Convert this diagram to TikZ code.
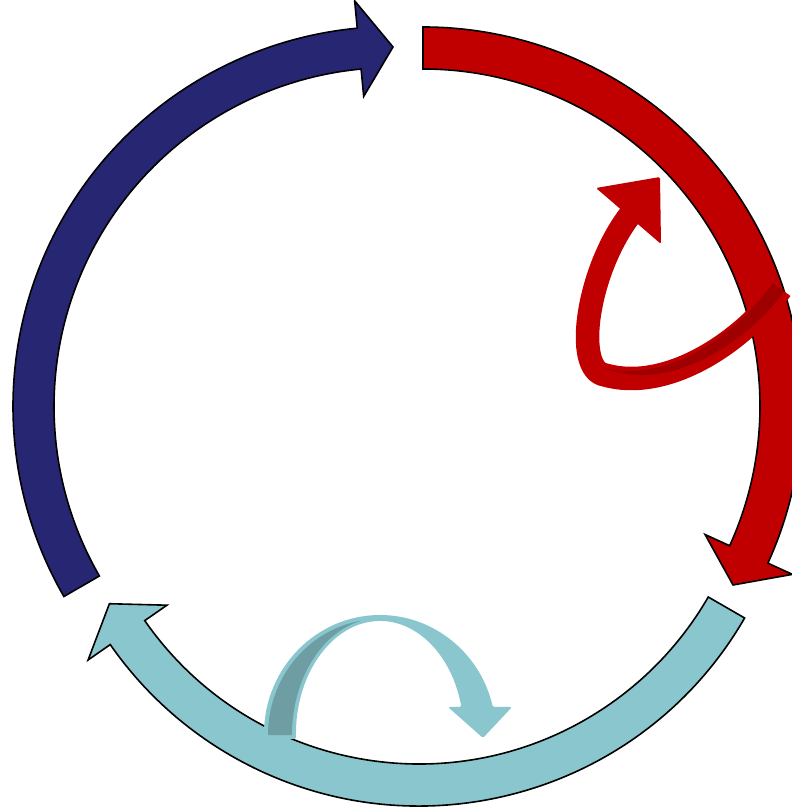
\documentclass[tikz,border=0pt]{standalone}
\usetikzlibrary{calc}
\definecolor{navyA}{HTML}{262672}
\definecolor{crimsonA}{HTML}{C00000}
\definecolor{crimsonB}{HTML}{9E0000}
\definecolor{tealA}{HTML}{8AC6CE}
\definecolor{tealB}{HTML}{6E9DA3}
% #1 style, #2 cx, #3 cy, #4 rin, #5 rout, #6 tail angle, #7 head base angle, #8 tip angle
\newcommand{\cyclearrow}[8]{%
  \path[#1] ($(#2,#3)+(#6:#5)$) arc[start angle=#6, end angle=#7, radius=#5pt]
    -- ($(#2,#3)+(#7:{(#4+#5)/2+48})$)
    -- ($(#2,#3)+(#8:{(#4+#5)/2})$)
    -- ($(#2,#3)+(#7:{(#4+#5)/2-48})$)
    -- ($(#2,#3)+(#7:#4)$)
    arc[start angle=#7, end angle=#6, radius=#4pt] -- cycle;}
\begin{document}
\begin{tikzpicture}[x=1pt,y=1pt,
  bigarrow/.style={draw=black, line width=1.6pt, line join=miter}]
\useasboundingbox (0,0) rectangle (792,811);
\clip (0,0) rectangle (792,811);
% three arrows of the cycle
\cyclearrow{bigarrow, fill=navyA}{393}{404.5}{339}{380}{210}{95.4}{90}
\cyclearrow{bigarrow, fill=crimsonA}{423}{405}{337}{379}{90}{-24.5}{-30}
\cyclearrow{bigarrow, fill=tealA}{419}{381}{334}{376}{-30}{-145.2}{-150.7}
% small red loop arrow
\draw[crimsonA, line width=23.5pt, line join=round]
  (781,522) .. controls (740,466) and (665,419) .. (605,436)
  .. controls (573,441) and (587,540) .. (630,596);
\fill[crimsonA, rounded corners=1.5pt] (596,623) -- (660,634) -- (661,567) -- cycle;
\fill[crimsonB] (772.9,527.9) .. controls (731.9,471.9) and (667.7,428.6) .. (604,443)
  .. controls (665,418) and (743.2,463.6) .. (784.2,519.6) -- cycle;
% small teal arch arrow
\fill[tealA, rounded corners=1.5pt] (264,72) -- (264,76)
  arc[start angle=180, end angle=13.5, x radius=116pt, y radius=120pt]
  -- (512,104) -- (483,73) -- (448,104) -- (461.4,104)
  arc[start angle=14.2, end angle=180, x radius=84pt, y radius=114pt]
  -- (296,72) -- cycle;
\fill[tealB] (268,76)
  arc[start angle=180, end angle=99.97, x radius=112pt, y radius=116pt]
  -- (360.65,190.1)
  arc[start angle=102.7, end angle=180, x radius=88pt, y radius=117pt]
  -- cycle;
\end{tikzpicture}
\end{document}
